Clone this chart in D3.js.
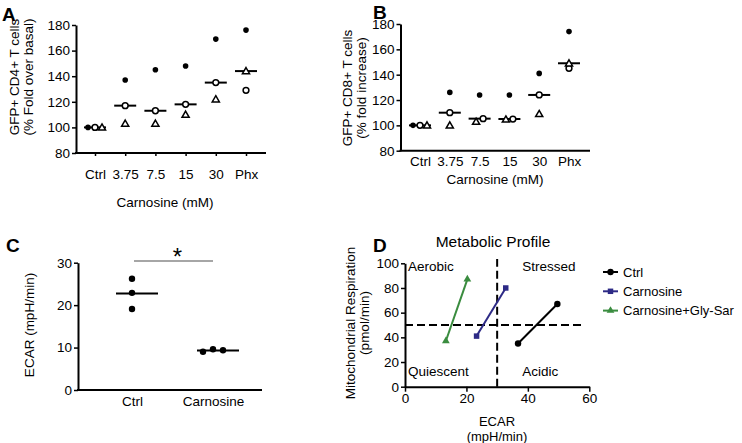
<!DOCTYPE html>
<html>
<head>
<meta charset="utf-8">
<script src="https://cdn.jsdelivr.net/npm/d3@7"></script>
<style>
  body { margin: 0; background: #fff; }
  svg { font-family: "Liberation Sans", Arial, Helvetica, sans-serif; }
</style>
</head>
<body>
<svg id="chart" width="742" height="443"></svg>
<script>
// ---- data ----
const doses = ["Ctrl", "3.75", "7.5", "15", "30", "Phx"];
// three donors per dose: filled dot, open circle, open triangle
const cd4Dot = [100, 137, 145, 148, 169, 176];
const cd4Circle = [100, 117, 113, 118, 135, 129];
const cd4Tri = [100, 103, 103, 110, 122, 144];
const cd8Dot = [100, 126, 124, 124, 141, 174];
const cd8Circle = [100, 110, 105.3, 105, 124, 145];
const cd8Tri = [100, 100, 102.9, 104.7, 109, 149];

const ecarGroups = ["Ctrl", "Carnosine"];
const ecarCtrl = [26.2, 22.9, 19.1];
const ecarCarnosine = [9.0, 9.6, 9.35];

const profileNames = ["Ctrl", "Carnosine", "Carnosine+Gly-Sar"];
const profileEcar = [[36.8, 49.6], [23.3, 32.8], [13.3, 20.3]];
const profileOcr = [[35, 67], [41, 80], [37, 87]];
const quadrantNames = ["Aerobic", "Stressed", "Quiescent", "Acidic"];

const svg = d3.select("#chart");

function styleAxis(sel, size) {
    sel.select(".domain").attr("stroke-width", 2).attr("stroke", "#000");
    sel.selectAll(".tick line").attr("stroke-width", 1.5).attr("stroke", "#000");
    sel.selectAll(".tick text").attr("font-size", size || 13.5).attr("fill", "#000")
        .attr("font-family", null);
}

function panelLetter(txt, x, y) {
    svg.append("text").attr("x", x).attr("y", y)
        .attr("font-size", 19).attr("font-weight", "bold").text(txt);
}

// rotated y titles, one text per line
function yTitle(lines, xs, cy, size) {
    lines.forEach((t, i) => {
        svg.append("text")
            .attr("transform", `translate(${xs[i]},${cy}) rotate(-90)`)
            .attr("text-anchor", "middle")
            .attr("font-size", size || 13.5)
            .text(t);
    });
}

// spread points whose pixel positions overlap horizontally
function spreadPoints(pts, gap, sortByValue) {
    const out = [];
    const used = new Set();
    pts.forEach((p, i) => {
        if (used.has(i)) return;
        const cluster = [p];
        used.add(i);
        let grown = true;
        while (grown) {
            grown = false;
            pts.forEach((q, j) => {
                if (used.has(j)) return;
                if (cluster.some(c => Math.abs(c.py - q.py) < 4)) {
                    cluster.push(q); used.add(j); grown = true;
                }
            });
        }
        if (sortByValue) cluster.sort((a, b) => a.v - b.v || a.s - b.s);
        else cluster.sort((a, b) => a.s - b.s);
        const n = cluster.length;
        cluster.forEach((c, k) => { c.dx = (k - (n - 1) / 2) * gap; out.push(c); });
    });
    return out;
}

const triPath = d3.symbol().type(d3.symbolTriangle).size(22)();

function drawMarker(g, kind, px, py) {
    if (kind === 0) {
        g.append("circle").attr("cx", px).attr("cy", py).attr("r", 2.8).attr("fill", "#000");
    } else if (kind === 1) {
        g.append("circle").attr("cx", px).attr("cy", py).attr("r", 2.9)
            .attr("fill", "#fff").attr("stroke", "#000").attr("stroke-width", 1.5);
    } else {
        g.append("path").attr("d", triPath).attr("transform", `translate(${px},${py + 0.6})`)
            .attr("fill", "#fff").attr("stroke", "#000").attr("stroke-width", 1.5);
    }
}

// ---- A and B: dose scatter panels ----
function dosePanel(o) {
    const g = svg.append("g");
    const x = d3.scalePoint().domain(doses).range(o.xr);
    const y = d3.scaleLinear().domain([80, 180]).range(o.yr);

    g.append("g").attr("transform", `translate(${o.axisX},0)`)
        .call(d3.axisLeft(y).ticks(5).tickSize(4).tickSizeOuter(0).tickPadding(2))
        .call(s => styleAxis(s));

    const xa = g.append("g").attr("transform", `translate(0,${o.yr[0]})`)
        .call(d3.axisBottom(x).tickSize(o.xTick).tickPadding(o.xPad))
        .call(s => styleAxis(s));
    xa.select(".domain").remove();
    g.append("line").attr("x1", o.axisX - 1).attr("x2", o.axisEnd)
        .attr("y1", o.yr[0]).attr("y2", o.yr[0])
        .attr("stroke", "#000").attr("stroke-width", 2);

    g.append("text").attr("x", o.titleX).attr("y", o.titleY)
        .attr("text-anchor", "middle").attr("font-size", 13.5).text("Carnosine (mM)");

    doses.forEach((d, i) => {
        const vals = o.series.map(s => s[i]);
        const med = d3.median(vals);
        g.append("line").attr("x1", x(d) - 11).attr("x2", x(d) + 11)
            .attr("y1", y(med)).attr("y2", y(med))
            .attr("stroke", "#000").attr("stroke-width", 2);
        const pts = vals.map((v, s) => ({ v, s, py: y(v) }));
        spreadPoints(pts, 7, true).forEach(p => drawMarker(g, p.s, x(d) + p.dx, p.py));
    });
}

dosePanel({
    series: [cd4Dot, cd4Circle, cd4Tri],
    xr: [95, 246], yr: [153, 25], axisX: 76, axisEnd: 266,
    xTick: 3, xPad: 13, titleX: 165, titleY: 207
});
dosePanel({
    series: [cd8Dot, cd8Circle, cd8Tri],
    xr: [420, 569], yr: [150.7, 24], axisX: 400.5, axisEnd: 590,
    xTick: 0, xPad: 6, titleX: 495, titleY: 184
});

panelLetter("A", 2, 21);
panelLetter("B", 373, 19);
yTitle(["GFP+ CD4+ T cells", "(% Fold over basal)"], [19, 33], 77);
yTitle(["GFP+ CD8+ T cells", "(% fold increase)"], [352, 366], 88);

// ---- C: ECAR ----
(function () {
    const g = svg.append("g");
    const x = d3.scalePoint().domain(ecarGroups).range([132, 213]);
    const y = d3.scaleLinear().domain([0, 30]).range([390, 262.7]);

    g.append("g").attr("transform", "translate(78,0)")
        .call(d3.axisLeft(y).ticks(3).tickSize(4).tickSizeOuter(0).tickPadding(2))
        .call(s => styleAxis(s));
    const xa = g.append("g").attr("transform", "translate(0,390)")
        .call(d3.axisBottom(x).tickSize(0).tickPadding(6))
        .call(s => styleAxis(s));
    xa.select(".domain").remove();
    g.append("line").attr("x1", 77).attr("x2", 262).attr("y1", 390).attr("y2", 390)
        .attr("stroke", "#000").attr("stroke-width", 2);

    [ecarCtrl, ecarCarnosine].forEach((vals, i) => {
        const cx = x(ecarGroups[i]);
        const m = d3.mean(vals);
        g.append("line").attr("x1", cx + 5 - 21).attr("x2", cx + 5 + 21)
            .attr("y1", y(m)).attr("y2", y(m)).attr("stroke", "#000").attr("stroke-width", 2);
        const pts = vals.map((v, s) => ({ v, s, py: y(v) }));
        spreadPoints(pts, 10, false).forEach(p =>
            g.append("circle").attr("cx", cx + p.dx).attr("cy", p.py).attr("r", 3.2).attr("fill", "#000"));
    });

    // significance bar
    g.append("line").attr("x1", x("Ctrl") + 2).attr("x2", x("Carnosine"))
        .attr("y1", 261).attr("y2", 261).attr("stroke", "#888").attr("stroke-width", 1.6);
    g.append("text").attr("x", (x("Ctrl") + x("Carnosine")) / 2 + 5).attr("y", 265)
        .attr("text-anchor", "middle").attr("font-size", 24).text("*");

    panelLetter("C", 6, 252);
    yTitle(["ECAR (mpH/min)"], [34], 325);
})();

// ---- D: metabolic profile ----
(function () {
    const g = svg.append("g");
    const x = d3.scaleLinear().domain([0, 60]).range([405, 589.3]);
    const y = d3.scaleLinear().domain([0, 100]).range([386.7, 263.3]);
    const colors = ["#000000", "#2d2a86", "#3a8c3f"];

    g.append("g").attr("transform", "translate(405,0)")
        .call(d3.axisLeft(y).tickValues([0, 20, 40, 60, 80, 100]).tickSize(4).tickSizeOuter(0).tickPadding(2))
        .call(s => styleAxis(s));
    g.append("g").attr("transform", "translate(0,386.7)")
        .call(d3.axisBottom(x).tickValues([0, 20, 40, 60]).tickSize(5).tickSizeOuter(0).tickPadding(2))
        .call(s => styleAxis(s));

    // quadrant dividers
    g.append("line").attr("x1", x(30)).attr("x2", x(30)).attr("y1", y(0)).attr("y2", y(103.5))
        .attr("stroke", "#000").attr("stroke-width", 2).attr("stroke-dasharray", "8,4");
    g.append("line").attr("x1", x(0)).attr("x2", x(57.5)).attr("y1", y(50)).attr("y2", y(50))
        .attr("stroke", "#000").attr("stroke-width", 2).attr("stroke-dasharray", "8,4");

    const qx = [1, 38.2, 1, 38.2], qy = [93.5, 93.5, 8.6, 8.6];
    quadrantNames.forEach((q, i) => {
        g.append("text").attr("x", x(qx[i])).attr("y", y(qy[i])).attr("font-size", 13.5).text(q);
    });

    const sq = d3.symbol().type(d3.symbolSquare).size(30)();
    const tr = d3.symbol().type(d3.symbolTriangle).size(26)();
    function mark(kind, px, py, c) {
        if (kind === 0) g.append("circle").attr("cx", px).attr("cy", py).attr("r", 3.2).attr("fill", c);
        else g.append("path").attr("d", kind === 1 ? sq : tr)
            .attr("transform", `translate(${px},${py})`).attr("fill", c);
    }

    const line = d3.line().x(d => x(d[0])).y(d => y(d[1]));
    profileNames.forEach((n, i) => {
        const pts = profileEcar[i].map((e, k) => [e, profileOcr[i][k]]);
        g.append("path").attr("d", line(pts)).attr("fill", "none")
            .attr("stroke", colors[i]).attr("stroke-width", 2);
        pts.forEach(p => mark(i, x(p[0]), y(p[1]), colors[i]));
    });

    g.append("text").attr("x", 493).attr("y", 247).attr("text-anchor", "middle")
        .attr("font-size", 15.5).text("Metabolic Profile");
    g.append("text").attr("x", 497).attr("y", 425.5).attr("text-anchor", "middle")
        .attr("font-size", 13).text("ECAR");
    g.append("text").attr("x", 497).attr("y", 440.5).attr("text-anchor", "middle")
        .attr("font-size", 13).text("(mpH/min)");

    // legend
    profileNames.forEach((n, i) => {
        const ly = 272 + i * 19.3;
        g.append("line").attr("x1", 603).attr("x2", 618).attr("y1", ly).attr("y2", ly)
            .attr("stroke", colors[i]).attr("stroke-width", 2);
        mark(i, 610.5, ly, colors[i]);
        g.append("text").attr("x", 623).attr("y", ly + 4.5).attr("font-size", 13).text(n);
    });

    panelLetter("D", 373, 252);
    yTitle(["Mitochondrial Respiration", "(pmol/min)"], [355, 369], 323);
})();
</script>
</body>
</html>
